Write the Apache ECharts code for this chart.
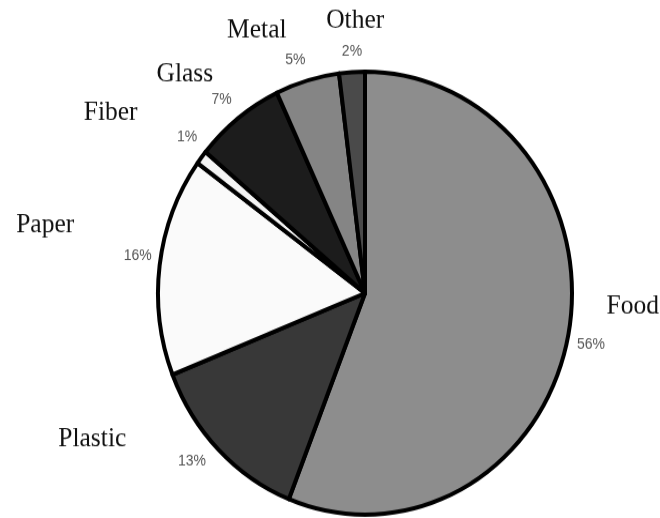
<!DOCTYPE html>
<html>
<head>
<meta charset="utf-8">
<script src="https://cdn.jsdelivr.net/npm/echarts@6/dist/echarts.min.js"></script>
<style>
  html, body { margin: 0; padding: 0; background: #ffffff; overflow: hidden; }
  #wrap { width: 660px; height: 518px; overflow: hidden; }
  /* the pie is drawn slightly taller than wide */
  #chart { width: 660px; height: 484px; transform: scaleY(1.07); transform-origin: 0 0; }
</style>
</head>
<body>
<div id="wrap"><div id="chart"></div></div>
<script>
// Waste composition, share of total (%)
const categories = ['Food', 'Plastic', 'Paper', 'Fiber', 'Glass', 'Metal', 'Other'];
const shares = [56, 13, 16, 1, 7, 5, 2];

// Slice fills, in category order
const sliceColors = ['#8d8d8d', '#383838', '#fafafa', '#f4f4f4', '#1c1c1c', '#858585', '#4a4a4a'];

// Label placement: [angle offset from slice middle (deg), distance from centre (px)]
const nameSpots = [[-8.1, 268], [18.4, 305], [4.0, 326], [-4.3, 305], [-3.5, 273], [-7.6, 268], [1.4, 255]];
const pctSpots  = [[1.2, 231], [2.7, 234], [1.5, 230], [1.5, 230], [-0.6, 231], [-1.5, 229], [0.3, 226]];

const CX = 365, CY = 274, R = 207;

// middle angle of each slice, clockwise from 12 o'clock
const total = shares.reduce((a, b) => a + b, 0);
const midAngles = [];
let acc = 0;
shares.forEach(v => { midAngles.push((acc + v / 2) / total * 360); acc += v; });

function spotAt(i, spots) {
  const a = (midAngles[i] + spots[i][0]) * Math.PI / 180;
  return { x: CX + spots[i][1] * Math.sin(a), y: CY - spots[i][1] * Math.cos(a) };
}

const data = categories.map((name, i) => ({
  name: name,
  value: shares[i],
  itemStyle: { color: sliceColors[i] }
}));

const chart = echarts.init(document.getElementById('chart'), null, { renderer: 'canvas' });
chart.setOption({
  backgroundColor: '#ffffff',
  animation: false,
  series: [
    {
      name: 'share',
      type: 'pie',
      center: [CX, CY],
      radius: R,
      startAngle: 90,
      clockwise: true,
      avoidLabelOverlap: false,
      data: data,
      itemStyle: { borderColor: '#000000', borderWidth: 4 },
      label: {
        show: true,
        position: 'outside',
        formatter: '{c}%',
        fontFamily: '"Liberation Sans", Arial, sans-serif',
        fontSize: 14,
        color: '#555555'
      },
      labelLine: { show: false },
      labelLayout: function (p) {
        const s = spotAt(p.dataIndex, pctSpots);
        return { x: s.x, y: s.y, align: 'center', verticalAlign: 'middle' };
      },
      emphasis: { disabled: true }
    },
    {
      name: 'names',
      type: 'pie',
      center: [CX, CY],
      radius: R,
      startAngle: 90,
      clockwise: true,
      silent: true,
      avoidLabelOverlap: false,
      data: categories.map((name, i) => ({ name: name, value: shares[i] })),
      itemStyle: { color: 'rgba(0,0,0,0)', borderWidth: 0 },
      label: {
        show: true,
        position: 'outside',
        formatter: '{b}',
        fontFamily: '"Liberation Serif", "Times New Roman", serif',
        fontSize: 25.5,
        color: '#111111'
      },
      labelLine: { show: false },
      labelLayout: function (p) {
        const s = spotAt(p.dataIndex, nameSpots);
        return { x: s.x, y: s.y, align: 'center', verticalAlign: 'middle' };
      },
      emphasis: { disabled: true }
    }
  ]
});
</script>
</body>
</html>
